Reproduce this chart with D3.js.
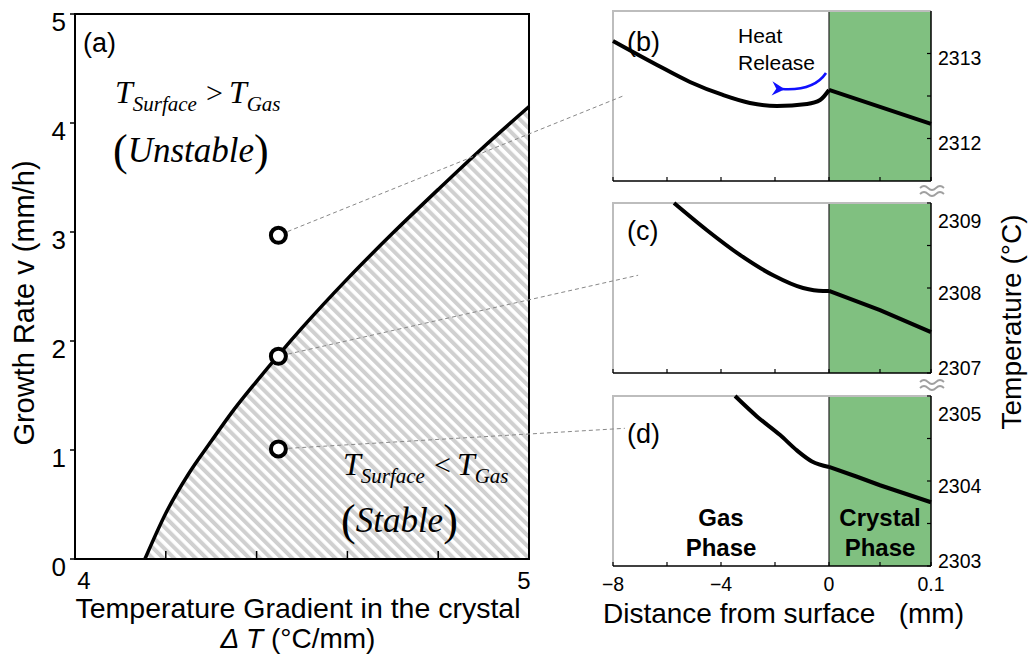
<!DOCTYPE html>
<html>
<head>
<meta charset="utf-8">
<script src="https://cdn.jsdelivr.net/npm/d3@7"></script>
<style>
  body { margin: 0; background: #fff; }
  text { font-family: "Liberation Sans", Arial, sans-serif; fill: #000; }
  .serif { font-family: "Liberation Serif", "Times New Roman", serif; font-style: italic; }
</style>
</head>
<body>
<svg id="chart" width="1030" height="657"></svg>
<script>
// (a) stability boundary
const gradient = [4.154, 4.2, 4.25, 4.3, 4.35, 4.4, 4.45, 4.5, 4.6, 4.7, 4.8, 4.9, 5.0];
const rate = [0, 0.42, 0.78, 1.08, 1.37, 1.63, 1.88, 2.12, 2.57, 2.99, 3.39, 3.78, 4.15];
// the three growth conditions shown in (b), (c), (d)
const caseGradient = [4.448, 4.448, 4.448];
const caseRate = [2.97, 1.86, 1.01];
const rateTicks = [0, 1, 2, 3, 4, 5];
const gradMinorTicks = [4.2, 4.4, 4.6, 4.8];
const gradLabels = [4, 5];

// (b)-(d) temperature profiles near the surface
const distB = [-8, -6.37, -5.15, -3.93, -2.93, -1.93, -0.81, -0.33, 0, 0.05, 0.1];
const tempB = [2313.147, 2312.865, 2312.665, 2312.512, 2312.418, 2312.382, 2312.406, 2312.453, 2312.571, 2312.371, 2312.171];
const distC = [-5.74, -4.52, -3.30, -2.07, -0.96, -0.22, 0, 0.05, 0.1];
const tempC = [2309.0, 2308.68, 2308.39, 2308.15, 2308.0, 2307.965, 2307.965, 2307.74, 2307.48];
const distD = [-3.48, -2.67, -1.81, -1.19, -0.63, 0, 0.0275, 0.05, 0.1];
const tempD = [2305.0, 2304.76, 2304.54, 2304.36, 2304.23, 2304.165, 2304.05, 2303.95, 2303.75];
const distTicks = [-8, -6, -4, -2, 0, 0.05, 0.1];
const distLabels = [-8, -4, 0, 0.1];
const distLabelText = ['\u22128', '\u22124', '0', '0.1'];
const tempRanges = [[2311.5, 2313.5], [2307, 2309], [2303, 2305]];
const tempTicks = [[2312, 2312.5, 2313], [2307, 2307.5, 2308, 2308.5, 2309], [2303, 2303.5, 2304, 2304.5, 2305]];
const tempLabels = [[2312, 2313], [2307, 2308, 2309], [2303, 2304, 2305]];
// where each dashed guide ends inside its panel (distance, temperature)
const guideEnd = [[-7.63, 2312.5], [-7.07, 2308.15], [-7.56, 2304.62]];

const svg = d3.select('#chart');
svg.append('rect').attr('width', 1030).attr('height', 657).attr('fill', '#fff');

// ---------- panel (a) ----------
const xA = d3.scaleLinear().domain([4, 5]).range([75, 529]);
const yA = d3.scaleLinear().domain([0, 5]).range([559, 14]);

const defs = svg.append('defs');
defs.append('pattern')
  .attr('id', 'hatch')
  .attr('patternUnits', 'userSpaceOnUse')
  .attr('width', 7.6).attr('height', 7.6)
  .attr('patternTransform', 'rotate(-45)')
  .append('rect')
  .attr('width', 4).attr('height', 7.6)
  .attr('fill', '#d0d0d0');

const bnd = gradient.map((g, i) => [g, rate[i]]);

svg.append('path')
  .datum(bnd)
  .attr('d', d3.area().x(d => xA(d[0])).y0(yA(0)).y1(d => yA(d[1])).curve(d3.curveMonotoneX))
  .attr('fill', 'url(#hatch)');

// frame
svg.append('rect')
  .attr('x', xA(4)).attr('y', yA(5))
  .attr('width', xA(5) - xA(4)).attr('height', yA(0) - yA(5))
  .attr('fill', 'none').attr('stroke', '#000').attr('stroke-width', 2);

svg.append('path')
  .datum(bnd)
  .attr('d', d3.line().x(d => xA(d[0])).y(d => yA(d[1])).curve(d3.curveMonotoneX))
  .attr('fill', 'none').attr('stroke', '#000').attr('stroke-width', 3.5);

// y ticks
rateTicks.forEach(v => {
  svg.append('line')
    .attr('x1', xA(4) - 5).attr('x2', xA(4))
    .attr('y1', yA(v)).attr('y2', yA(v))
    .attr('stroke', '#000').attr('stroke-width', 1.5);
  svg.append('text')
    .attr('x', 66).attr('y', yA(v) + 8)
    .attr('dy', '0.35em')
    .attr('text-anchor', 'end')
    .style('font-size', '26px')
    .text(v);
});
// x ticks (inside)
gradMinorTicks.forEach(v => {
  svg.append('line')
    .attr('x1', xA(v)).attr('x2', xA(v))
    .attr('y1', yA(0)).attr('y2', yA(0) - 8)
    .attr('stroke', '#000').attr('stroke-width', 1.5);
});
gradLabels.forEach((v, i) => {
  svg.append('text')
    .attr('x', xA(v) + (i === 0 ? 9 : -5)).attr('y', 581)
    .attr('dy', '0.35em')
    .attr('text-anchor', 'middle')
    .style('font-size', '24px')
    .text(v);
});

svg.append('text')
  .attr('x', 83).attr('y', 52)
  .style('font-size', '27px')
  .text('(a)');

// T_sub op T_sub inequality in italic serif
function inequality(x, y, op) {
  const t = svg.append('text').attr('class', 'serif').attr('x', x).attr('y', y);
  t.append('tspan').style('font-size', '32px').text('T');
  t.append('tspan').attr('dy', 8).style('font-size', '21px').text('Surface');
  t.append('tspan').attr('dy', -8).attr('dx', 9).style('font-size', '30px').style('font-style', 'normal').text(op);
  t.append('tspan').attr('dx', 6).style('font-size', '32px').text('T');
  t.append('tspan').attr('dy', 8).style('font-size', '21px').text('Gas');
}
function bracketed(x, y, word) {
  const t = svg.append('text').attr('class', 'serif').attr('x', x).attr('y', y);
  t.append('tspan').style('font-size', '44px').style('font-style', 'normal').attr('dy', 3).text('(');
  t.append('tspan').style('font-size', '35px').attr('dy', -3).text(word);
  t.append('tspan').style('font-size', '44px').style('font-style', 'normal').attr('dy', 3).text(')');
}
inequality(115, 103, '>');
bracketed(113, 162, 'Unstable');
inequality(343, 475, '<');
bracketed(341, 532, 'Stable');

svg.append('text')
  .attr('transform', 'translate(34,303) rotate(-90)')
  .attr('text-anchor', 'middle')
  .style('font-size', '29px')
  .text('Growth Rate v (mm/h)');
svg.append('text')
  .attr('x', 298).attr('y', 618)
  .attr('text-anchor', 'middle')
  .style('font-size', '28.5px')
  .text('Temperature Gradient in the crystal');
const dt = svg.append('text')
  .attr('x', 298).attr('y', 648)
  .attr('text-anchor', 'middle')
  .style('font-size', '28px');
dt.append('tspan').style('font-style', 'italic').text('\u0394 T');
dt.append('tspan').text(' (\u00b0C/mm)');

// ---------- panels (b), (c), (d) ----------
const xR = d3.scaleLinear().domain([-8, 0, 0.1]).range([613, 829, 931]);
const panelTop = [11, 203, 396];
const panelH = 170;
const profiles = [[distB, tempB], [distC, tempC], [distD, tempD]];
const panelNames = ['(b)', '(c)', '(d)'];
const yScales = [];

panelTop.forEach((top, p) => {
  const y = d3.scaleLinear().domain(tempRanges[p]).range([top + panelH, top]);
  yScales.push(y);
  const bottom = top + panelH;

  // crystal region
  svg.append('rect')
    .attr('x', xR(0)).attr('y', top)
    .attr('width', xR(0.1) - xR(0)).attr('height', panelH)
    .attr('fill', '#80c080');
  svg.append('line')
    .attr('x1', xR(0)).attr('x2', xR(0)).attr('y1', top).attr('y2', bottom)
    .attr('stroke', '#222').attr('stroke-width', 1.2);

  // light grey left/top frame
  svg.append('path')
    .attr('d', `M${xR(-8)},${bottom}V${top}H${xR(0.1)}`)
    .attr('fill', 'none').attr('stroke', '#bdbdbd').attr('stroke-width', 2);

  // bottom axis
  svg.append('line')
    .attr('x1', xR(-8)).attr('x2', xR(0.1)).attr('y1', bottom).attr('y2', bottom)
    .attr('stroke', '#000').attr('stroke-width', 1.5);
  distTicks.forEach(v => {
    svg.append('line')
      .attr('x1', xR(v)).attr('x2', xR(v)).attr('y1', bottom).attr('y2', bottom - 4)
      .attr('stroke', '#000').attr('stroke-width', 1.2);
  });

  // right axis
  svg.append('line')
    .attr('x1', xR(0.1)).attr('x2', xR(0.1)).attr('y1', top).attr('y2', bottom)
    .attr('stroke', '#000').attr('stroke-width', 1.5);
  tempTicks[p].forEach(v => {
    svg.append('line')
      .attr('x1', xR(0.1) - 4).attr('x2', xR(0.1)).attr('y1', y(v)).attr('y2', y(v))
      .attr('stroke', '#000').attr('stroke-width', 1.2);
  });
  tempLabels[p].forEach(v => {
    const cy = Math.max(top + 18, Math.min(bottom - 5, y(v) + 5));
    svg.append('text')
      .attr('x', 938).attr('y', cy).attr('dy', '0.35em')
      .style('font-size', '19.5px')
      .text(v);
  });

  // profile: gas side smooth, crystal side straight
  const pts = profiles[p][0].map((d, i) => [d, profiles[p][1][i]]);
  const gas = pts.filter(d => d[0] <= 0);
  const crystal = pts.filter(d => d[0] >= 0);
  svg.append('path')
    .datum(gas)
    .attr('d', d3.line().x(d => xR(d[0])).y(d => y(d[1])).curve(d3.curveMonotoneX))
    .attr('fill', 'none').attr('stroke', '#000').attr('stroke-width', 4);
  svg.append('path')
    .datum(crystal)
    .attr('d', d3.line().x(d => xR(d[0])).y(d => y(d[1])))
    .attr('fill', 'none').attr('stroke', '#000').attr('stroke-width', 4);

  svg.append('text')
    .attr('x', 627).attr('y', top + [40, 37, 47][p])
    .style('font-size', '27px')
    .text(panelNames[p]);
});

// axis break marks between panels
[191, 385].forEach(yy => {
  [-3, 3].forEach(off => {
    svg.append('path')
      .attr('d', `M920,${yy + off} q4,-4 8,0 t8,0 t8,0`)
      .attr('fill', 'none').attr('stroke', '#a0a0a0').attr('stroke-width', 1.8);
  });
});

// bottom distance labels
distLabels.forEach((v, i) => {
  svg.append('text')
    .attr('x', xR(v)).attr('y', 584).attr('dy', '0.35em')
    .attr('text-anchor', 'middle')
    .style('font-size', '19.5px')
    .text(distLabelText[i]);
});
svg.append('text')
  .attr('x', 603).attr('y', 623)
  .style('font-size', '28px')
  .style('white-space', 'pre')
  .text('Distance from surface   (mm)');
svg.append('text')
  .attr('transform', 'translate(1021,322) rotate(-90)')
  .attr('text-anchor', 'middle')
  .style('font-size', '28px')
  .text('Temperature (\u00b0C)');

// phase names
[['Gas', 'Phase', -4], ['Crystal', 'Phase', 0.05]].forEach(([a, b, v]) => {
  const t = svg.append('text')
    .attr('text-anchor', 'middle')
    .style('font-size', '24px').style('font-weight', 'bold');
  t.append('tspan').attr('x', xR(v)).attr('y', 526).text(a);
  t.append('tspan').attr('x', xR(v)).attr('y', 556).text(b);
});

// heat release annotation
defs.append('marker')
  .attr('id', 'arrow')
  .attr('viewBox', '0 0 10 10')
  .attr('refX', 2).attr('refY', 5)
  .attr('markerWidth', 5.5).attr('markerHeight', 5.5)
  .attr('orient', 'auto-start-reverse')
  .append('path')
  .attr('d', 'M0,5 L9,0 L6,5 L9,10 Z')
  .attr('fill', '#1010ff');
svg.append('path')
  .attr('d', 'M826,73 Q814,91 782,89')
  .attr('fill', 'none').attr('stroke', '#1010ff').attr('stroke-width', 2.6)
  .attr('marker-end', 'url(#arrow)');
const hr = svg.append('text').style('font-size', '21px');
hr.append('tspan').attr('x', 738).attr('y', 43).text('Heat');
hr.append('tspan').attr('x', 738).attr('y', 70).text('Release');

// dashed guides and the three case markers
caseGradient.forEach((g, i) => {
  const cx = xA(g), cy = yA(caseRate[i]);
  const ex = xR(guideEnd[i][0]), ey = yScales[i](guideEnd[i][1]);
  const len = Math.hypot(ex - cx, ey - cy);
  svg.append('line')
    .attr('x1', cx + (ex - cx) / len * 10).attr('y1', cy + (ey - cy) / len * 10)
    .attr('x2', ex).attr('y2', ey)
    .attr('stroke', '#888').attr('stroke-width', 1).attr('stroke-dasharray', '4,3');
  svg.append('circle')
    .attr('cx', cx).attr('cy', cy).attr('r', 7.5)
    .attr('fill', '#fff').attr('stroke', '#000').attr('stroke-width', 4);
});
</script>
</body>
</html>
